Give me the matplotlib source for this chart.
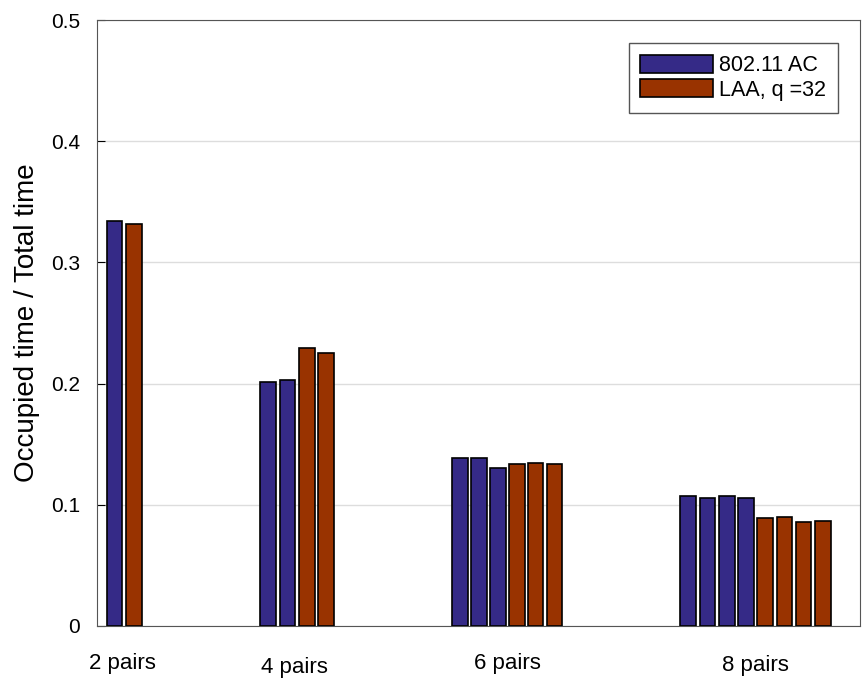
import numpy as np
import matplotlib.pyplot as plt

plt.rcParams['font.family'] = ['Liberation Sans', 'DejaVu Sans']

groups = ['2 pairs', '4 pairs', '6 pairs', '8 pairs']
ac_vals = [[0.334], [0.201, 0.203], [0.1386, 0.1386, 0.130], [0.1075, 0.106, 0.1075, 0.106]]
laa_vals = [[0.332], [0.229, 0.225], [0.1334, 0.1345, 0.1334], [0.0889, 0.090, 0.0856, 0.0866]]

# where each group starts (bar slots) and where its label sits
starts = [0.9, 8.77, 18.6, 30.3]
pitch = [1.0, 0.99, 0.97, 0.985]
label_x = [1.28, 10.1, 21.05, 33.75]
label_y = [-0.062, -0.068, -0.062, -0.065]

blue = '#352a87'
red = '#993300'

fig = plt.figure(figsize=(8.63, 6.78), dpi=100)
ax = fig.add_axes([0.1124, 0.0767, 0.8841, 0.8938])

for i in range(len(groups)):
    n = len(ac_vals[i])
    xs = starts[i] + pitch[i] * np.arange(2 * n)
    ax.bar(xs[:n], ac_vals[i], width=0.8, color=blue, edgecolor='black', linewidth=1.2,
           label='802.11 AC' if i == 0 else None, zorder=3)
    ax.bar(xs[n:], laa_vals[i], width=0.8, color=red, edgecolor='black', linewidth=1.2,
           label='LAA, q =32' if i == 0 else None, zorder=3)
    ax.text(label_x[i], label_y[i], groups[i], transform=ax.get_xaxis_transform(),
            ha='center', va='center', fontsize=16)

ax.set_xlim(0, 39.1)
ax.set_ylim(0, 0.5)
ax.set_yticks([0, 0.1, 0.2, 0.3, 0.4, 0.5])
ax.set_yticklabels(['0', '0.1', '0.2', '0.3', '0.4', '0.5'])
ax.set_xticks([])
ax.tick_params(axis='y', direction='in', length=6, labelsize=15, pad=12)
ax.grid(axis='y', color='#dddddd', linewidth=1, zorder=0)
for s in ax.spines.values():
    s.set_color('#555555')
ax.set_ylabel('Occupied time / Total time', fontsize=20, labelpad=8)

leg = ax.legend(loc='upper right', bbox_to_anchor=(0.971, 0.962), borderaxespad=0,
                fontsize=15.5, handlelength=3.35, handleheight=0.9, fancybox=False,
                edgecolor='#555555', framealpha=1, borderpad=0.55, labelspacing=0.15,
                handletextpad=0.3)
leg.get_frame().set_linewidth(1)

plt.savefig('out.png')
